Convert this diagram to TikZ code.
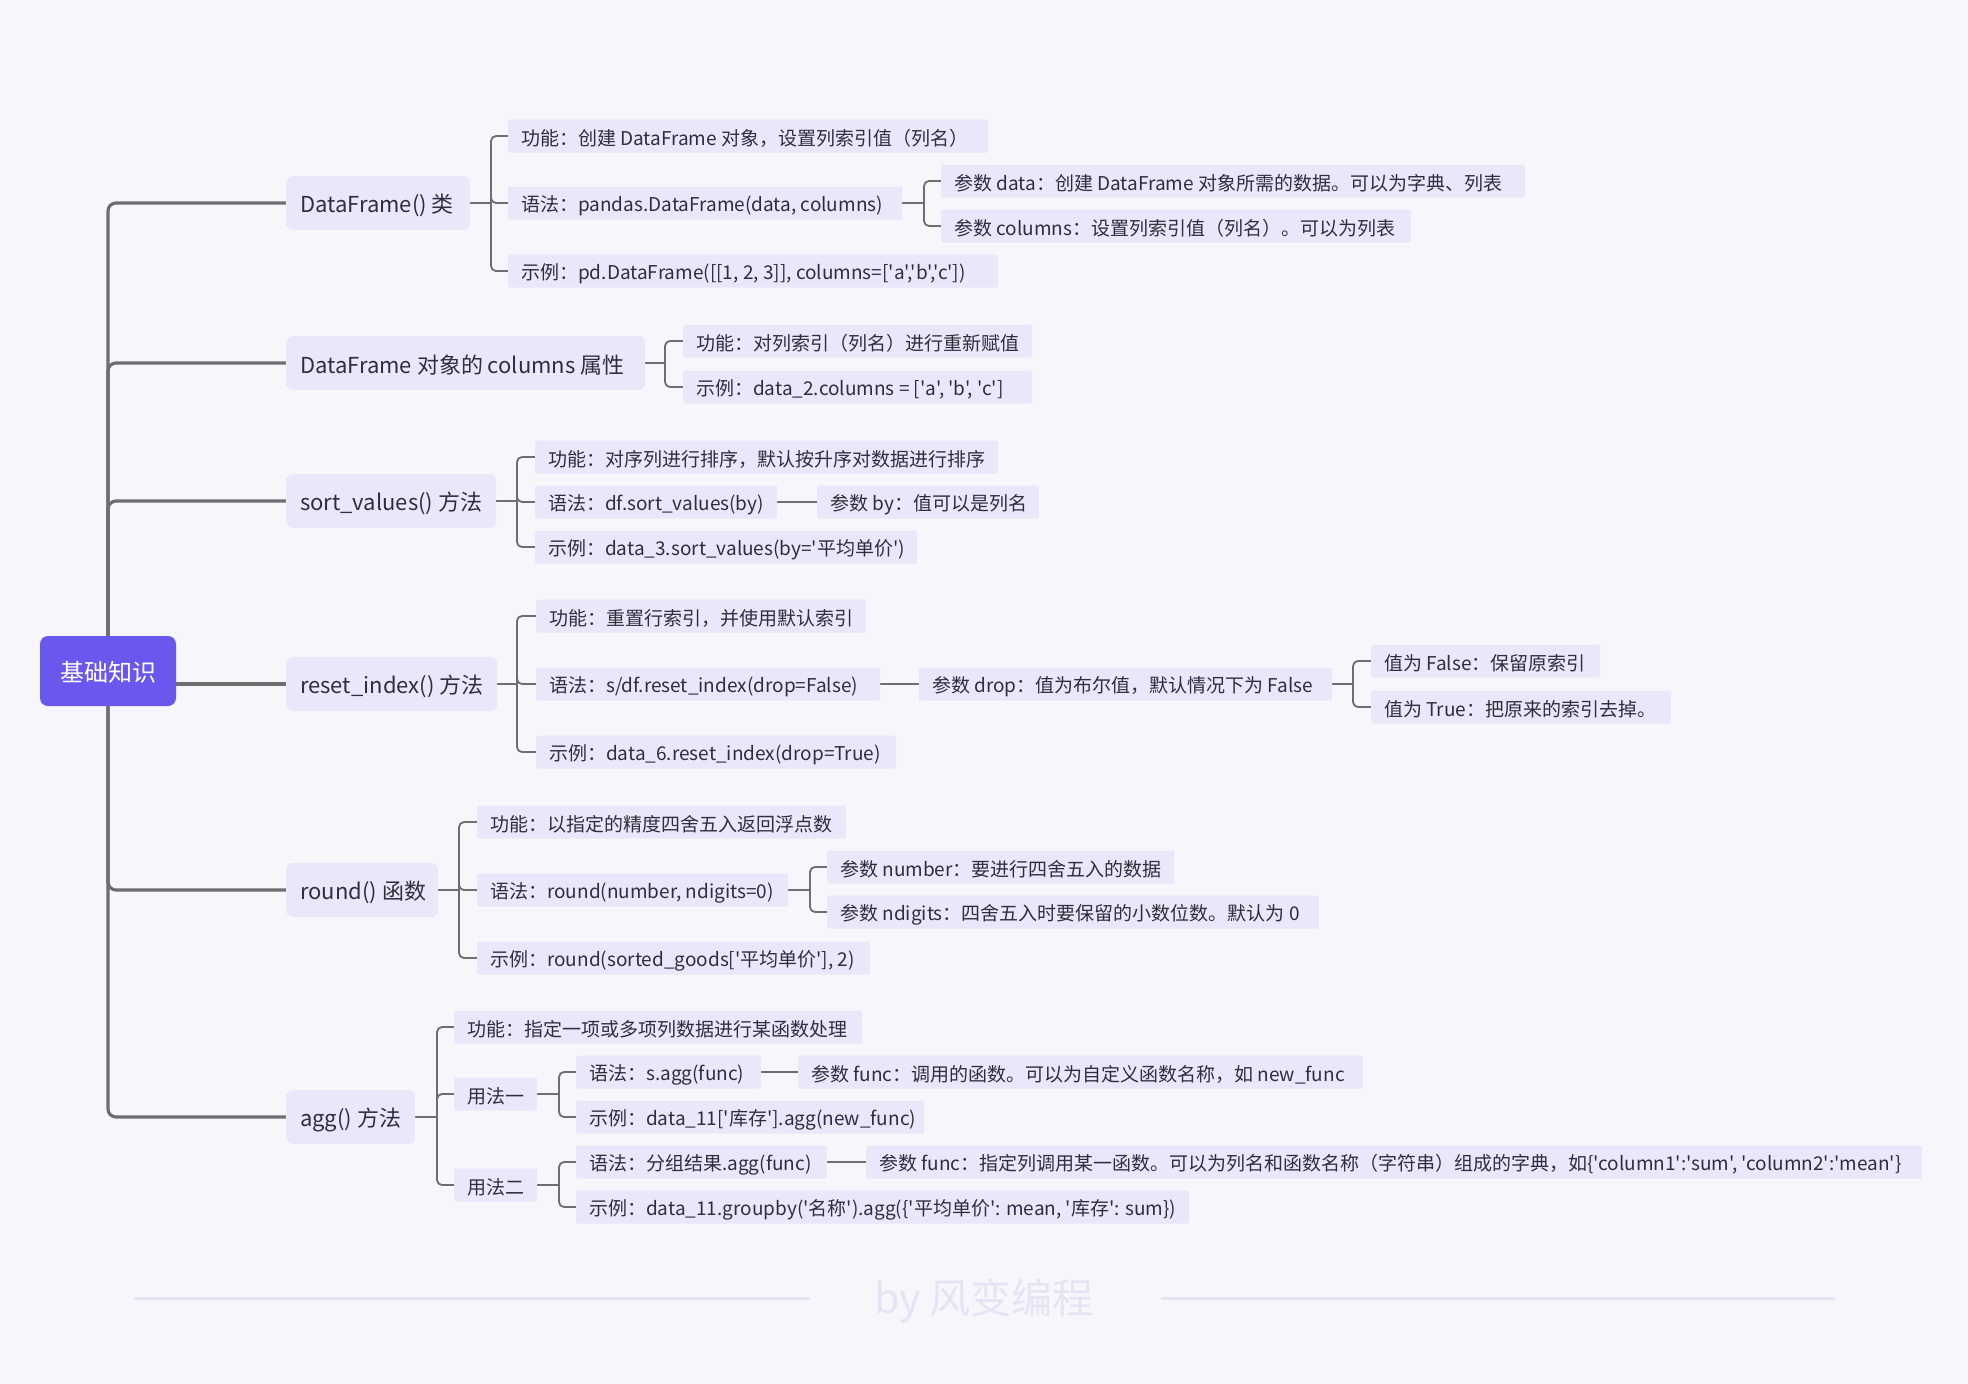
\documentclass[tikz,border=0pt]{standalone}
\usepackage{fontspec}
\setmainfont{Noto Sans CJK SC}[Ligatures=TeXOff]
\usetikzlibrary{calc}
\definecolor{bgc}{HTML}{F7F7FB}
\definecolor{boxc}{HTML}{E8E8FA}
\definecolor{rootc}{HTML}{6A58EE}
\definecolor{linec}{HTML}{6E6E6E}
\definecolor{txtc}{HTML}{2F2F3A}
\definecolor{wmc}{HTML}{E4E4F5}
\pgfdeclarelayer{backdrop}
\pgfdeclarelayer{lines}
\pgfsetlayers{backdrop,lines,main}
\newcommand\mmitem[5]{\node[itembox] (#1) at (#2,#3) {\raisebox{-2.5pt}[\height][\depth]{\makebox[\dimexpr#4pt-26pt\relax][l]{#5}}};}
\newcommand\mmlvl[5]{\node[lvlbox] (#1) at (#2,#3) {\raisebox{-2.5pt}[\height][\depth]{\makebox[\dimexpr#4pt-28pt\relax][l]{#5}}};}
\newcommand\mmbrk[3]{%
  \coordinate (#1j) at (#2,0 |- #1.east);
  \draw[sub] (#1.east) -- (#1j);
  \foreach \c in {#3} {\draw[sub, rounded corners=5pt] (#1j) |- (\c.west);}
}
\begin{document}
\begin{tikzpicture}[x=1pt,y=-1pt,
  itembox/.style={fill=boxc, rounded corners=2pt, anchor=west, minimum height=33pt, inner xsep=13pt, inner ysep=0pt, text=txtc, font=\fontsize{19pt}{22pt}\selectfont},
  lvlbox/.style={fill=boxc, rounded corners=7pt, anchor=west, minimum height=54pt, inner xsep=14pt, inner ysep=0pt, text=txtc, font=\fontsize{22pt}{26pt}\selectfont},
  rootbox/.style={fill=rootc, rounded corners=8pt, minimum width=136pt, minimum height=70pt, inner sep=0pt, text=white, font=\fontsize{24pt}{28pt}\selectfont},
  trunk/.style={draw=linec, line width=3.2pt},
  sub/.style={draw=linec, line width=1.8pt},
]
\useasboundingbox (0,0) rectangle (1968,1384);
\begin{pgfonlayer}{backdrop}
\fill[bgc] (0,0) rectangle (1968,1384);
\end{pgfonlayer}

\node[rootbox] (root) at (108,671) {\raisebox{-1.5pt}[\height][\depth]{基础知识}};

\mmlvl{L1}{286}{203}{184}{DataFrame() 类}
\mmlvl{L2}{286}{363}{359}{DataFrame 对象的 columns 属性}
\mmlvl{L3}{286}{501}{210}{sort\_values() 方法}
\mmlvl{L4}{286}{684}{211}{reset\_index() 方法}
\mmlvl{L5}{286}{890}{152}{round() 函数}
\mmlvl{L6}{286}{1117}{129}{agg() 方法}

% branch 1
\mmitem{A1}{508}{136}{480}{功能：创建 DataFrame 对象，设置列索引值（列名）}
\mmitem{A2}{508}{203}{394}{语法：pandas.DataFrame(data, columns)}
\mmitem{A21}{941}{181}{584}{参数 data：创建 DataFrame 对象所需的数据。可以为字典、列表}
\mmitem{A22}{941}{226}{470}{参数 columns：设置列索引值（列名）。可以为列表}
\mmitem{A3}{508}{271}{490}{示例：pd.DataFrame([[1, 2, 3]], columns=['a','b','c'])}
% branch 2
\mmitem{B1}{683}{341}{349}{功能：对列索引（列名）进行重新赋值}
\mmitem{B2}{683}{387}{349}{示例：data\_2.columns = ['a', 'b', 'c']}
% branch 3
\mmitem{C1}{535}{457}{463}{功能：对序列进行排序，默认按升序对数据进行排序}
\mmitem{C2}{535}{502}{242}{语法：df.sort\_values(by)}
\mmitem{C21}{817}{502}{222}{参数 by：值可以是列名}
\mmitem{C3}{535}{547}{382}{示例：data\_3.sort\_values(by='平均单价')}
% branch 4
\mmitem{D1}{536}{616}{330}{功能：重置行索引，并使用默认索引}
\mmitem{D2}{536}{684}{344}{语法：s/df.reset\_index(drop=False)}
\mmitem{D21}{919}{684}{413}{参数 drop：值为布尔值，默认情况下为 False}
\mmitem{D211}{1371}{661}{229}{值为 False：保留原索引}
\mmitem{D212}{1371}{707}{300}{值为 True：把原来的索引去掉。}
\mmitem{D3}{536}{752}{360}{示例：data\_6.reset\_index(drop=True)}
% branch 5
\mmitem{E1}{477}{822}{369}{功能：以指定的精度四舍五入返回浮点数}
\mmitem{E2}{477}{890}{311}{语法：round(number, ndigits=0)}
\mmitem{E21}{827}{867}{347}{参数 number：要进行四舍五入的数据}
\mmitem{E22}{827}{912}{492}{参数 ndigits：四舍五入时要保留的小数位数。默认为 0}
\mmitem{E3}{477}{958}{393}{示例：round(sorted\_goods['平均单价'], 2)}
% branch 6
\mmitem{F1}{454}{1027}{408}{功能：指定一项或多项列数据进行某函数处理}
\mmitem{F2}{454}{1094}{83}{用法一}
\mmitem{F21}{576}{1072}{185}{语法：s.agg(func)}
\mmitem{F211}{798}{1072}{565}{参数 func：调用的函数。可以为自定义函数名称，如 new\_func}
\mmitem{F22}{576}{1117}{348}{示例：data\_11['库存'].agg(new\_func)}
\mmitem{F3}{454}{1185}{83}{用法二}
\mmitem{F31}{576}{1162}{251}{语法：分组结果.agg(func)}
\mmitem{F311}{866}{1162}{1056}{参数 func：指定列调用某一函数。可以为列名和函数名称（字符串）组成的字典，如\{'column1':'sum', 'column2':'mean'\}}
\mmitem{F32}{576}{1207}{613}{示例：data\_11.groupby('名称').agg(\{'平均单价': mean, '库存': sum\})}

% watermark
\node[text=wmc, font=\fontsize{41pt}{46pt}\selectfont, inner sep=0pt] (wm) at (984,1301) {by 风变编程};
\draw[wmc, line width=3pt, line cap=round] (135,1298) -- (809,1298);
\draw[wmc, line width=3pt, line cap=round] (1162,1298) -- (1834,1298);

\begin{pgfonlayer}{lines}
\foreach \c in {L1,L2,L3,L5,L6} {\draw[trunk, rounded corners=8pt] (root.center) |- (\c.west);}
\draw[trunk] (root.center) |- (L4.west);
\mmbrk{L1}{491}{A1,A2,A3}
\mmbrk{A2}{924}{A21,A22}
\mmbrk{L2}{665}{B1,B2}
\mmbrk{L3}{517}{C1,C2,C3}
\draw[sub] (C2.east) -- (C21.west);
\mmbrk{L4}{517}{D1,D2,D3}
\draw[sub] (D2.east) -- (D21.west);
\mmbrk{D21}{1353}{D211,D212}
\mmbrk{L5}{459}{E1,E2,E3}
\mmbrk{E2}{810}{E21,E22}
\mmbrk{L6}{437}{F1,F2,F3}
\mmbrk{F2}{559}{F21,F22}
\draw[sub] (F21.east) -- (F211.west);
\mmbrk{F3}{559}{F31,F32}
\draw[sub] (F31.east) -- (F311.west);
\end{pgfonlayer}
\end{tikzpicture}
\end{document}
